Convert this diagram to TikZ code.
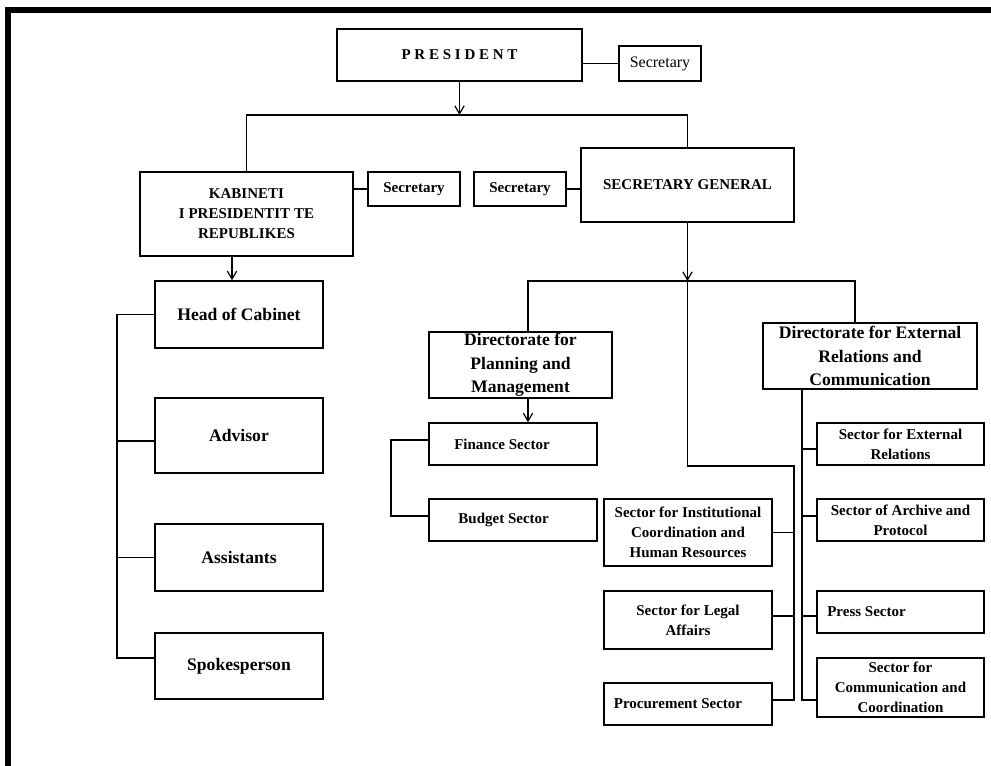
\documentclass[tikz,border=0pt]{standalone}
\usepackage{fontspec}
\setmainfont{Liberation Serif}
\usetikzlibrary{arrows.meta,calc}
\begin{document}
\begin{tikzpicture}[x=0.75pt,y=-0.75pt,
  box/.style={draw, line width=1.1pt, inner sep=0pt, align=center},
  sz/.style 2 args={minimum width=#1*0.75pt, minimum height=#2*0.75pt},
  fs/.style={font=\fontsize{11.25pt}{15pt}\selectfont\bfseries},
  fl/.style={font=\fontsize{13.2pt}{17.5pt}\selectfont\bfseries},
  con/.style={line width=0.9pt},
  arr/.style={con, -{Straight Barb[length=6pt,width=7pt]}}]
\useasboundingbox (0,0) rectangle (991,766);
% frame
\fill (5,7) rectangle (991,13);
\fill (5,7) rectangle (11,766);
% nodes
\node[box,fs,sz={245}{52}] (pres) at (459.5,55) {P R E S I D E N T};
\node[box,sz={82}{35},font=\fontsize{12pt}{14pt}\selectfont] (sec0) at (660,63.5) {Secretary};
\node[box,fs,sz={213}{84}] (kab) at (246.5,214) {KABINETI\\I PRESIDENTIT TE\\REPUBLIKES};
\node[box,fs,sz={92}{34}] (sec1) at (414,189) {Secretary};
\node[box,fs,sz={92}{34}] (sec2) at (520,189) {Secretary};
\node[box,fs,sz={213}{74}] (sg) at (687.5,185) {SECRETARY GENERAL};
\node[box,fl,sz={168}{67}] (head) at (239,314.5) {Head of Cabinet};
\node[box,fl,sz={168}{75}] (adv) at (239,435.5) {Advisor};
\node[box,fl,sz={168}{67}] (asst) at (239,557.5) {Assistants};
\node[box,fl,sz={168}{66}] (spk) at (239,666) {Spokesperson};
\node[box,fl,sz={183}{66}] (dpm) at (520.5,365) {Directorate for\\Planning and\\Management};
\node[box,fs,sz={168}{42}] (fin) at (513,444) {Finance Sector\hspace*{16.5pt}};
\node[box,fs,sz={168}{42}] (bud) at (513,520) {Budget Sector\hspace*{14pt}};
\node[box,fs,sz={168}{67}] (inst) at (688,532.5) {Sector for Institutional\\Coordination and\\Human Resources};
\node[box,fs,sz={168}{58}] (legal) at (688,620) {Sector for Legal\\Affairs};
\node[box,fs,sz={168}{42}] (proc) at (688,704) {Procurement Sector\hspace*{15pt}};
\node[box,fl,sz={214}{66}] (der) at (870,356) {Directorate for External\\Relations and\\Communication};
\node[box,fs,sz={167}{42}] (ser) at (900.5,444) {Sector for External\\Relations};
\node[box,fs,sz={167}{42}] (arc) at (900.5,520) {Sector of Archive and\\Protocol};
\node[box,fs,sz={167}{42}] (press) at (900.5,612) {Press Sector\hspace*{51pt}};
\node[box,fs,sz={167}{59}] (comm) at (900.5,687.5) {Sector for\\Communication and\\Coordination};
% top level connectors
\draw[con] (sec0.west) -- (sec0.west -| pres.east);
\coordinate (tl) at (246.5,115);
\coordinate (tr) at (687.5,115);
\draw[con] (kab.north) -- (tl) -- (tr) -- (sg.north);
\draw[arr] (pres.south) -- (pres.south |- tl);
\draw[con] (sec1.west) -- (sec1.west -| kab.east);
\draw[con] (sec2.east) -- (sec2.east -| sg.west);
% cabinet branch
\coordinate (ka) at ($(kab.south)+(-14.5,0)$);
\draw[arr] (ka) -- (ka |- head.north);
\coordinate (lx) at (117,0);
\draw[con] (head.west) -- (head.west -| lx) -- ($(spk.west -| lx)+(0,-8)$) -- ($(spk.west)+(0,-8)$);
\draw[con] ($(adv.west)+(0,5.5)$) -- ($(adv.west -| lx)+(0,5.5)$);
\draw[con] (asst.west) -- (asst.west -| lx);
% secretary general branch
\coordinate (hm) at (687.5,281);
\coordinate (hl) at (528,281);
\coordinate (hr) at (855,281);
\draw[arr] (sg.south) -- (hm);
\draw[con] (hl |- dpm.north) -- (hl) -- (hr) -- (hr |- der.north);
% planning
\draw[arr] (hl |- dpm.south) -- (hl |- fin.north);
\coordinate (fx) at (391,0);
\draw[con] ($(fin.west)+(0,-4)$) -- ($(fin.west -| fx)+(0,-4)$) -- ($(bud.west -| fx)+(0,-4)$) -- ($(bud.west)+(0,-4)$);
% middle column
\coordinate (mb) at (794,466);
\draw[con] (hm) -- (hm |- mb) -- (mb) -- ($(proc.east -| mb)+(0,-4)$) -- ($(proc.east)+(0,-4)$);
\draw[con] (inst.east) -- (inst.east -| mb);
\draw[con] ($(legal.east)+(0,-4)$) -- ($(legal.east -| mb)+(0,-4)$);
% external relations
\coordinate (rx) at (802,0);
\draw[con] (rx |- der.south) -- ($(comm.west -| rx)+(0,12.5)$) -- ($(comm.west)+(0,12.5)$);
\draw[con] ($(ser.west)+(0,5)$) -- ($(ser.west -| rx)+(0,5)$);
\draw[con] ($(arc.west)+(0,-4)$) -- ($(arc.west -| rx)+(0,-4)$);
\draw[con] ($(press.west)+(0,4)$) -- ($(press.west -| rx)+(0,4)$);
\end{tikzpicture}
\end{document}
